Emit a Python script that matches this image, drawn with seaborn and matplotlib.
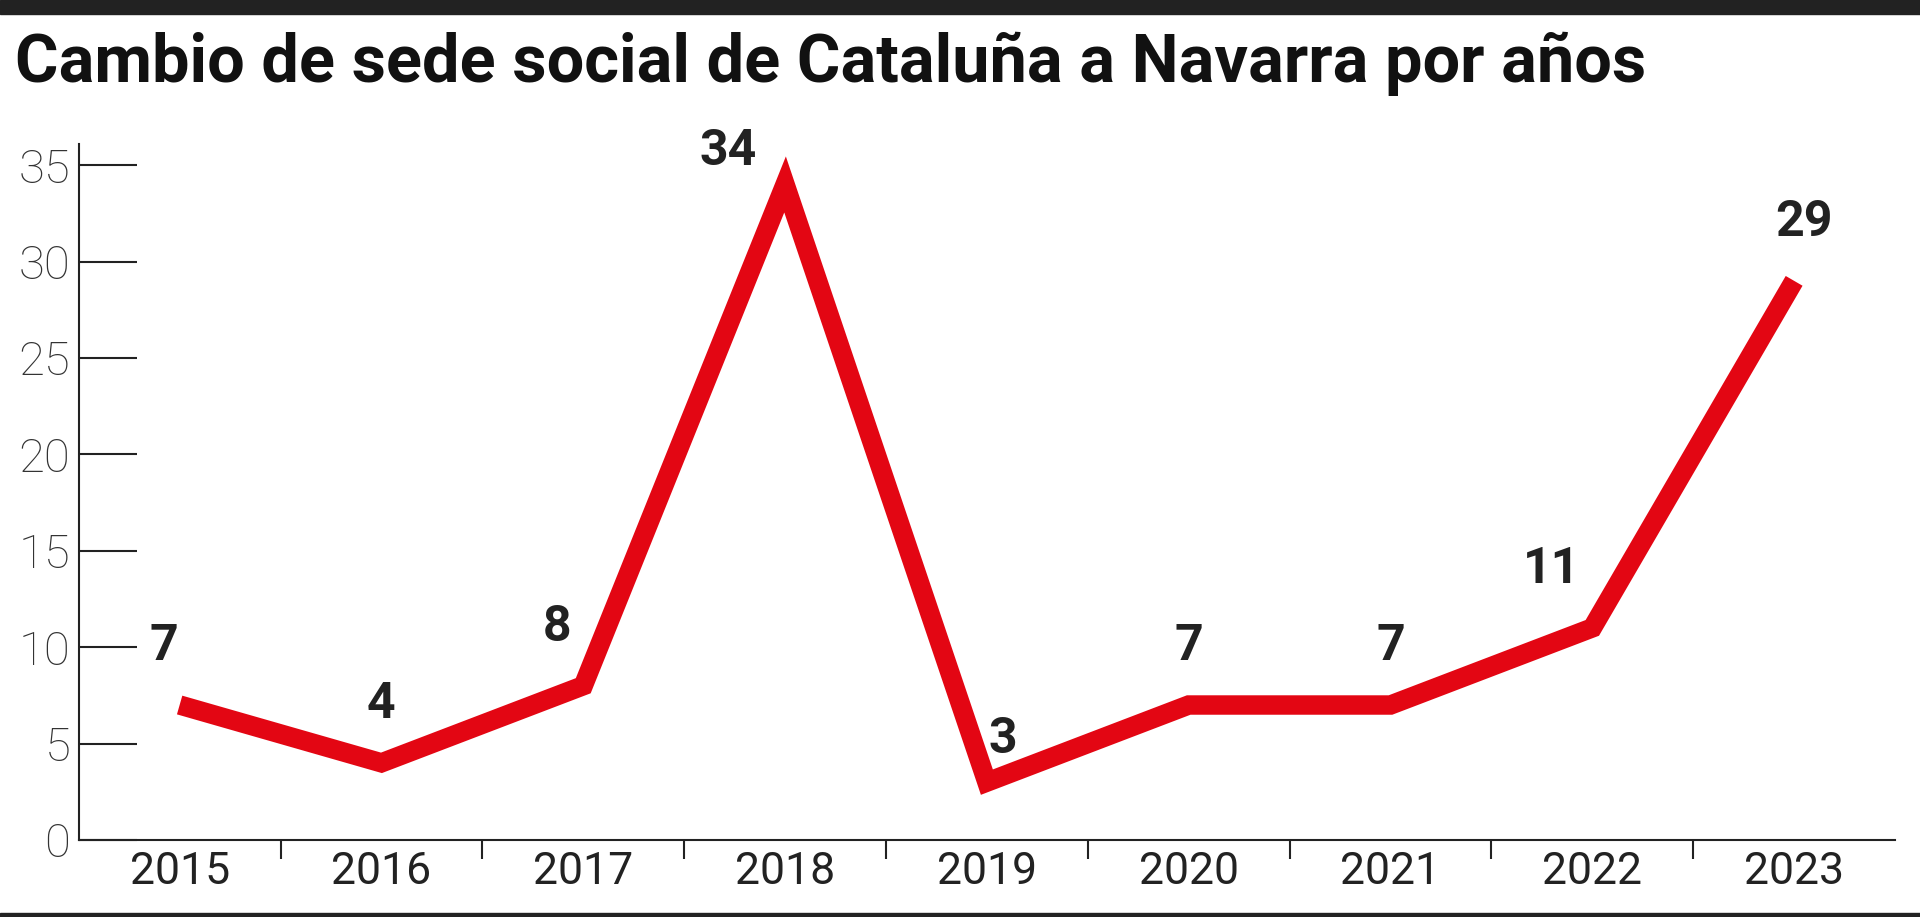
import matplotlib
matplotlib.use("Agg")
import matplotlib.pyplot as plt
import seaborn as sns
import pandas as pd

years = ["2015","2016","2017","2018","2019","2020","2021","2022","2023"]
values = [7, 4, 8, 34, 3, 7, 7, 11, 29]
yticks = [0, 5, 10, 15, 20, 25, 30, 35]

sns.set_style("white")
plt.rcParams['font.family'] = ['Roboto', 'DejaVu Sans']

df = pd.DataFrame({"x": range(len(years)), "v": values})
fig = plt.figure(figsize=(19.2, 9.17), dpi=100)
ax = fig.add_axes([0.041, 0.084, 0.946, 0.759])
sns.lineplot(data=df, x="x", y="v", ax=ax, color="#e30613", linewidth=14,
             solid_joinstyle="miter", solid_capstyle="butt")
ax.set_xlim(-0.5, len(years) - 0.5)
ax.set_ylim(0, 36.1)
ax.set_xlabel(""); ax.set_ylabel("")
for s in ["top", "right"]:
    ax.spines[s].set_visible(False)
for s in ["left", "bottom"]:
    ax.spines[s].set_color("#222")
    ax.spines[s].set_linewidth(1.5)
ax.set_yticks(yticks)
ax.set_yticklabels([str(t) for t in yticks], fontsize=34, fontweight="light", color="#333")
ax.tick_params(axis="y", left=True, direction="in", length=42, width=1.5, color="#222", pad=6)
ax.set_xticks([i + 0.5 for i in range(len(years) - 1)], minor=False)
ax.set_xticklabels([])
ax.tick_params(axis="x", which="major", bottom=True, direction="out", length=14, width=1.5, color="#222")
ax.set_xticks(range(len(years)), minor=True)
ax.set_xticklabels(years, minor=True, fontsize=32, color="#222")
ax.tick_params(axis="x", which="minor", bottom=True, length=0, pad=8)

offsets = [(-0.08, 1.8), (0, 1.8), (-0.13, 1.8), (-0.28, 0.5), (0.08, 1.0),
           (0, 1.8), (0, 1.8), (-0.2, 1.8), (0.05, 1.8)]
for i, v in enumerate(values):
    dx, dy = offsets[i]
    ax.text(i + dx, v + dy, str(v), ha="center", va="bottom", fontsize=36,
            fontweight="bold", color="#222")

fig.text(0.008, 0.93, "Cambio de sede social de Cataluña a Navarra por años",
         fontsize=48, fontweight="bold", color="#111", va="center", ha="left")
fig.add_artist(plt.Rectangle((0, 0.985), 1, 0.015, transform=fig.transFigure, color="#222"))
fig.add_artist(plt.Rectangle((0, 0), 1, 0.004, transform=fig.transFigure, color="#222"))
fig.savefig("out.png", dpi=100)
